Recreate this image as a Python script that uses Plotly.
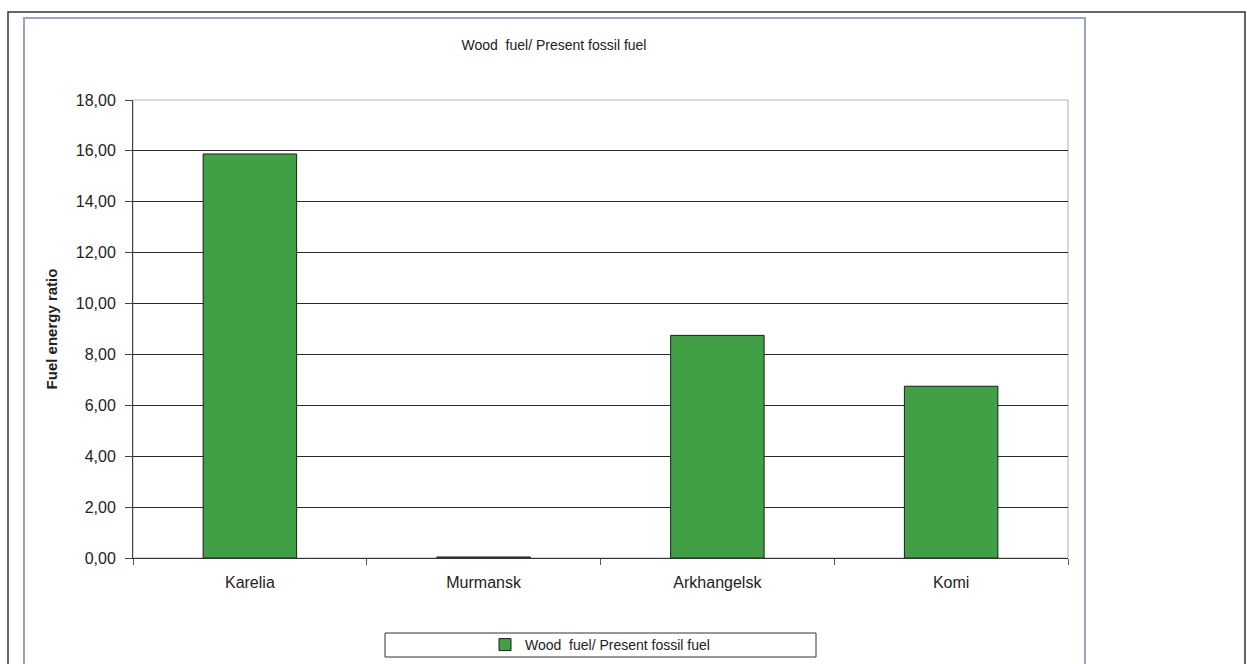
import plotly.graph_objects as go

categories = ["Karelia", "Murmansk", "Arkhangelsk", "Komi"]
values = [15.88, 0.04, 8.75, 6.75]
series_name = "Wood  fuel/ Present fossil fuel"
y_ticks = [0, 2, 4, 6, 8, 10, 12, 14, 16, 18]
y_tick_labels = ["0,00", "2,00", "4,00", "6,00", "8,00", "10,00", "12,00", "14,00", "16,00", "18,00"]

W, H = 1247, 664
L, R, T, B = 133, 1068, 100, 558

def px(x):
    return (x - L) / (R - L)

def py(y):
    return (B - y) / (B - T)

fig = go.Figure()
fig.add_trace(go.Bar(
    x=categories, y=values, name=series_name,
    marker=dict(color="#41a046", line=dict(color="#1e1e1e", width=1)),
    width=0.4, showlegend=True,
))

font = "Liberation Sans, Arial, sans-serif"
shapes = [
    dict(type="rect", xref="paper", yref="paper", x0=px(8), x1=px(1245), y0=py(667), y1=py(12),
         line=dict(color="#333333", width=1.5), layer="below"),
    dict(type="rect", xref="paper", yref="paper", x0=px(24), x1=px(1085), y0=py(667), y1=py(18),
         line=dict(color="#9aa4c4", width=2), layer="below"),
    dict(type="rect", xref="paper", yref="paper", x0=0, x1=1, y0=0, y1=1,
         line=dict(color="#b0b0b0", width=1), layer="below"),
    dict(type="rect", xref="paper", yref="paper", x0=px(385), x1=px(816), y0=py(657), y1=py(633),
         line=dict(color="#333333", width=1)),
]

fig.update_layout(
    width=W, height=H,
    margin=dict(l=L, r=W - R, t=T, b=H - B, pad=0, autoexpand=False),
    paper_bgcolor="white", plot_bgcolor="white",
    font=dict(family=font, color="#222222"),
    title=dict(text=series_name, x=px(554), xref="paper", xanchor="center",
               y=1 - 45 / H, yanchor="middle", font=dict(size=14, color="#222222")),
    xaxis=dict(
        showgrid=False, showline=True, linecolor="#333333", linewidth=1,
        ticks="outside", ticklen=6, tickcolor="#555555", tickson="boundaries",
        tickfont=dict(size=16, color="#222222"), range=[-0.5, 3.5],
        ticklabelstandoff=10,
    ),
    yaxis=dict(
        range=[0, 18], tickvals=y_ticks, ticktext=y_tick_labels,
        showgrid=True, gridcolor="#2a2a2a", gridwidth=1,
        showline=True, linecolor="#444444", linewidth=1,
        ticks="outside", ticklen=7, tickcolor="#444444",
        tickfont=dict(size=16, color="#222222"),
        ticklabelstandoff=6,
        title=dict(text="<b>Fuel energy ratio</b>", font=dict(size=15, color="#222222"), standoff=14),
        zeroline=False,
    ),
    bargap=0.6,
    legend=dict(orientation="h", x=px(600), xanchor="center", y=py(645), yanchor="middle",
                font=dict(size=14, color="#222222"), bgcolor="rgba(0,0,0,0)",
                itemwidth=30),
    shapes=shapes,
)

fig.write_html("out.html")
